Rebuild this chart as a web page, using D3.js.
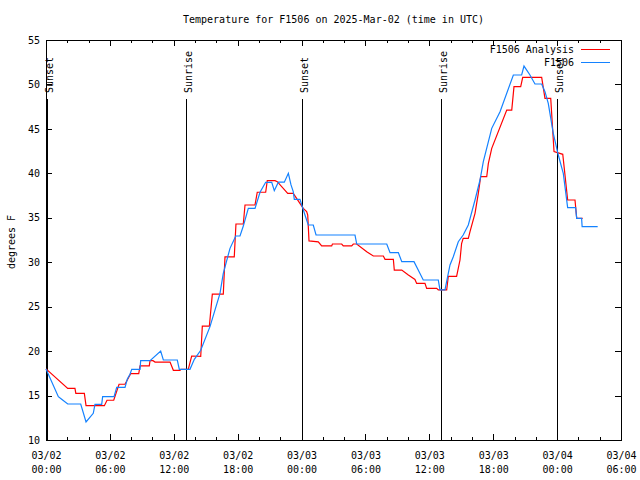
<!DOCTYPE html>
<html><head><meta charset="utf-8">
<script src="https://cdn.jsdelivr.net/npm/d3@7"></script>
<style>
body{margin:0;background:#fff}
svg{font-family:"DejaVu Sans Mono",monospace;font-size:10px}
</style></head>
<body><svg id="c" width="640" height="480"></svg>
<script>
const titleText = "Temperature for F1506 on 2025-Mar-02 (time in UTC)";
const yLabel = "degrees F";
const startTime = "2025-03-02T00:00:00Z";
const endHours = 54;
const yTicks = [10,15,20,25,30,35,40,45,50,55];
const seriesNames = ["F1506 Analysis","F1506"];
const seriesColors = ["#ff0000","#1482ff"];

const analysisHours = [0,2.04,2.72,2.8,3.6,3.76,5.48,5.73,6.36,6.86,7.42,7.95,8.71,8.83,9.7,9.77,10.05,10.24,11.65,11.96,12.58,12.68,13.36,13.68,14.53,14.68,15.34,15.62,16.65,16.81,17.68,17.84,18.53,18.69,19.63,19.84,20.63,20.78,21.51,21.72,22.7,23.22,24.16,24.48,24.58,24.7,25.57,25.89,26.83,26.9,27.77,27.92,28.71,28.86,29.18,30.12,30.74,31.68,31.84,32.62,32.71,33.41,34.03,34.65,34.81,35.59,35.75,36.69,36.84,37.63,37.78,38.56,38.88,39.03,39.18,39.66,39.82,40.29,40.6,40.82,41.39,41.54,41.86,43.27,43.74,43.95,44.58,44.77,46.55,46.86,47.4,47.71,48.53,48.99,49.68,49.84,50.4];
const analysisTemps = [18.0,15.8,15.8,15.25,15.25,13.86,13.86,14.47,14.47,16.27,16.27,17.46,17.46,18.33,18.33,18.92,18.92,18.77,18.77,17.84,17.84,17.95,17.95,19.45,19.4,22.8,22.8,26.4,26.4,30.6,30.6,34.3,34.3,36.44,36.44,37.87,37.87,39.17,39.17,39.06,37.75,37.75,36.06,35.69,35.3,32.4,32.3,31.83,31.83,32.05,32.05,31.83,31.83,32.05,32.05,31.19,30.7,30.7,30.33,30.33,29.12,29.12,28.56,28.06,27.62,27.62,27.06,27.06,26.88,26.88,28.4,28.4,30.25,32.1,32.69,32.69,33.44,35.5,37.75,39.62,39.62,41.1,42.81,47.12,47.12,49.75,49.75,50.8,50.8,48.44,48.44,42.44,42.14,37.0,37.0,34.94,34.94];

const obsHours = [0,1.16,1.47,2.04,3.26,3.76,4.44,4.6,5.23,5.32,6.39,6.64,7.42,7.64,7.89,8.05,8.83,8.89,9.77,10.77,11.02,12.33,12.52,13.52,13.93,14.53,15.4,16.34,16.65,17.28,17.82,18.22,18.53,19.0,19.63,20.1,20.63,21.2,21.44,21.82,22.38,22.76,23.01,23.22,23.32,23.85,24.32,24.63,25.1,25.36,29.02,29.18,32.0,32.31,33.09,33.41,34.56,35.43,36.84,37.0,37.47,37.78,37.94,38.25,38.72,39.18,39.66,40.29,40.76,41.07,41.86,42.64,43.89,44.67,44.89,45.45,45.92,46.55,46.86,47.17,47.64,48.11,48.58,48.99,49.74,49.84,50.3,50.35,51.81];
const obsTemps = [18.0,14.87,14.58,14.05,14.05,12.03,13.0,14.0,14.0,14.87,14.87,15.93,15.93,16.86,17.39,17.95,17.95,18.92,18.92,20.0,19.0,19.0,17.95,17.95,19.08,20.1,22.75,26.5,28.75,31.56,32.95,32.95,34.07,36.06,36.06,37.87,38.99,38.99,38.05,39.0,39.0,40.0,38.7,37.94,37.07,37.07,35.31,34.19,34.19,33.06,33.06,32.05,32.05,31.08,31.08,30.06,30.06,28.0,28.0,26.88,26.88,28.75,29.69,30.62,32.31,33.06,34.19,37.0,39.25,41.31,45.06,46.94,51.06,51.06,52.07,51.06,50.05,50.05,49.19,47.87,44.5,42.06,40.0,36.14,36.14,34.94,34.94,34.0,34.0];

const eventHours = [0.08,13.13,24.05,37.05,48.03];
const eventLabels = ["Sunset","Sunrise","Sunset","Sunrise","Sunset"];

const t0 = new Date(startTime);
const toDate = h => new Date(t0.getTime() + h*3600000);

const svg = d3.select("#c");
const L=46, R=621, T=40, B=440;
const x = d3.scaleUtc().domain([t0, toDate(endHours)]).range([L,R]);
const y = d3.scaleLinear().domain([10,55]).range([B,T]);

const g = svg.append("g").attr("shape-rendering","crispEdges");

// title
svg.append("text").attr("x",(L+R)/2).attr("y",23).attr("text-anchor","middle").text(titleText);
// y label
svg.append("text").attr("transform","translate(15,242) rotate(-90)").attr("text-anchor","middle").text(yLabel);

// axes
const majorT = d3.range(0,endHours+1,6).map(toDate);
const minorT = d3.range(0,endHours+1,2).filter(h=>h%6!==0).map(toDate);

const ax = g.append("g").attr("transform",`translate(0,${B})`)
  .call(d3.axisBottom(x).tickValues(majorT).tickSizeInner(-6).tickSizeOuter(0).tickFormat(d3.utcFormat("%m/%d")));
ax.selectAll(".tick text").each(function(d){
  const t=d3.select(this); t.text(null).attr("y",0).attr("dy",null);
  t.append("tspan").attr("x",0).attr("y",19).text(d3.utcFormat("%m/%d")(d));
  t.append("tspan").attr("x",0).attr("y",33).text(d3.utcFormat("%H:%M")(d));
});
g.append("g").attr("transform",`translate(0,${B})`)
  .call(d3.axisBottom(x).tickValues(minorT).tickSizeInner(-3).tickSizeOuter(0).tickFormat(""));
g.append("g").attr("transform",`translate(0,${T})`)
  .call(d3.axisTop(x).tickValues(majorT).tickSizeInner(-6).tickSizeOuter(0).tickFormat(""));
g.append("g").attr("transform",`translate(0,${T})`)
  .call(d3.axisTop(x).tickValues(minorT).tickSizeInner(-3).tickSizeOuter(0).tickFormat(""));
g.append("g").attr("transform",`translate(${L},0)`)
  .call(d3.axisLeft(y).tickValues(yTicks).tickSizeInner(-6).tickSizeOuter(0).tickPadding(6));
g.append("g").attr("transform",`translate(${R},0)`)
  .call(d3.axisRight(y).tickValues(yTicks).tickSizeInner(-6).tickSizeOuter(0).tickFormat(""));
g.selectAll(".domain").remove();
g.selectAll(".tick line").attr("stroke","#000");
svg.selectAll(".tick text").attr("fill","#000").style("font-family",'"DejaVu Sans Mono",monospace').style("font-size","10px");

// border
g.append("rect").attr("x",L).attr("y",T).attr("width",R-L).attr("height",B-T)
  .attr("fill","none").attr("stroke","#000");

// event lines
eventHours.forEach((h,i)=>{
  const xx = Math.round(x(toDate(h)));
  g.append("line").attr("x1",xx+0.5).attr("x2",xx+0.5).attr("y1",99).attr("y2",B).attr("stroke","#000");
  svg.append("text").attr("transform",`translate(${xx+6},93) rotate(-90)`).text(eventLabels[i]);
});

// series
const line = d3.line().x(d=>x(toDate(d[0]))).y(d=>y(d[1]));
const series = [d3.zip(analysisHours,analysisTemps), d3.zip(obsHours,obsTemps)];
series.forEach((s,i)=>{
  svg.append("path").datum(s).attr("d",line).attr("fill","none")
    .attr("stroke",seriesColors[i]).attr("stroke-width",1.2);
});

// legend
seriesNames.forEach((n,i)=>{
  const yy = 49 + i*13;
  svg.append("text").attr("x",574).attr("y",yy+4).attr("text-anchor","end").text(n);
  g.append("line").attr("x1",581).attr("x2",610).attr("y1",yy+0.5).attr("y2",yy+0.5).attr("stroke",seriesColors[i]);
});
</script></body></html>
